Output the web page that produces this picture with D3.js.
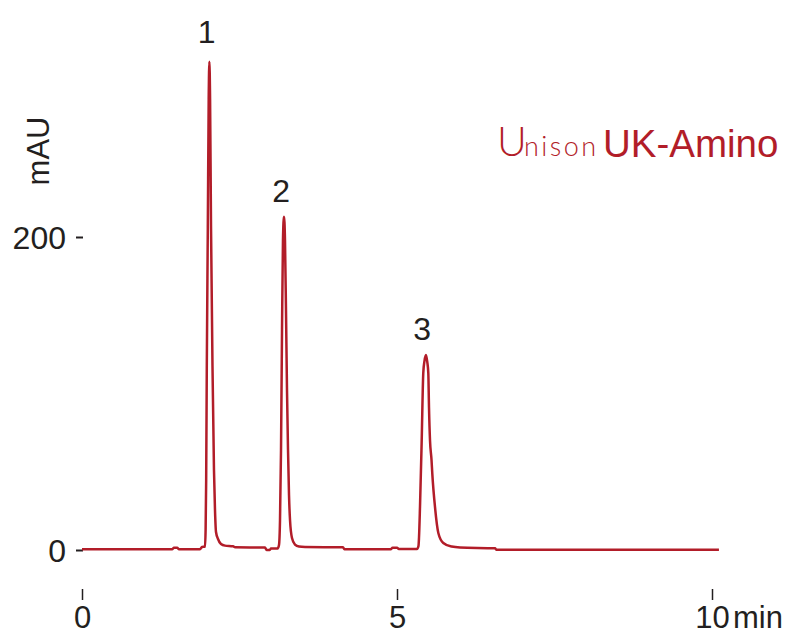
<!DOCTYPE html>
<html>
<head>
<meta charset="utf-8">
<script src="https://cdn.jsdelivr.net/npm/d3@7"></script>
<style>
  body { margin: 0; background: #fff; }
  text { font-family: "Liberation Sans", Arial, sans-serif; fill: #231f20; }
</style>
</head>
<body>
<div id="chart"></div>
<script>
// chromatogram (time in min, absorbance in mAU)
const timeMin = [0, 1.43, 1.46, 1.51, 1.54, 1.873, 1.905, 1.952, 1.962, 1.971, 1.981, 1.997, 2.011, 2.022,
  2.033, 2.048, 2.071, 2.095, 2.111, 2.127, 2.159, 2.206, 2.27, 2.397, 2.43, 2.905, 2.93, 2.98, 3.0, 3.105,
  3.127, 3.143, 3.159, 3.175, 3.19, 3.206, 3.222, 3.238, 3.254, 3.27, 3.286, 3.302, 3.333, 3.381, 3.444, 3.54,
  4.143, 4.165, 4.9, 4.93, 5.0, 5.03, 5.317, 5.341, 5.349, 5.365, 5.392, 5.417, 5.437, 5.46, 5.481, 5.497,
  5.508, 5.524, 5.548, 5.56, 5.603, 5.656, 5.735, 5.868, 6.0, 6.556, 6.575, 10.11];
const absorbance = [0.45, 0.45, 1.5, 1.5, 0.45, 0.45, 1.9, 2.1, 12.8, 44.7, 118, 206, 288, 312,
  288, 206, 118, 51, 25.6, 11.5, 7, 3.8, 2.8, 2.4, 1.7, 1.6, 0, 0, 1.0, 1.0,
  3.2, 19, 64, 141, 198, 213, 198, 153, 102, 64, 35, 19, 7.7, 3.5, 2.2, 1.9,
  1.7, 0.45, 0.45, 1.5, 1.5, 0.6, 0.6, 2.6, 7.7, 27.5, 70, 113, 121, 124.6, 120, 113,
  91, 70, 57.5, 49, 27.5, 10.9, 4.5, 2.2, 1.6, 1.1, 0.2, 0.2];

const xTicks = [0, 5, 10];
const yTicks = [0, 200];
const peakNames = ["1", "2", "3"];
const peakTimes = [1.98, 3.16, 5.4];
const peakTops = [312, 213, 124.6];

const width = 791, height = 635;
const red = "#b21d29";

const svg = d3.select("#chart").append("svg")
  .attr("width", width)
  .attr("height", height);

const x = d3.scaleLinear().domain([0, 10]).range([82, 712]);
const y = d3.scaleLinear().domain([0, 200]).range([550, 237]);

// y axis: just the little dashes and labels
const yAxis = svg.append("g")
  .attr("transform", "translate(83,0)")
  .call(d3.axisLeft(y).tickValues(yTicks).tickSize(7).tickPadding(10));
yAxis.select(".domain").remove();
yAxis.selectAll(".tick line").attr("stroke", "#231f20").attr("stroke-width", 2);
yAxis.selectAll(".tick text").style("font-size", "32px").attr("fill", "#231f20").attr("dy", "0.36em");

svg.append("text")
  .attr("transform", "translate(49,151) rotate(-90)")
  .style("text-anchor", "middle")
  .style("font-size", "31px")
  .text("mAU");

// x axis below, ticks pointing down
const xAxis = svg.append("g")
  .attr("transform", "translate(0,589)")
  .call(d3.axisBottom(x).tickValues(xTicks).tickSize(11).tickPadding(6));
xAxis.select(".domain").remove();
xAxis.selectAll(".tick line").attr("stroke", "#231f20").attr("stroke-width", 1.5);
xAxis.selectAll(".tick text").style("font-size", "31px").attr("fill", "#231f20");

svg.append("text")
  .attr("x", 733).attr("y", 628)
  .style("font-size", "31px")
  .text("min");

// the trace
const trace = timeMin.map((t, i) => [t, absorbance[i]]);
svg.append("path")
  .datum(trace)
  .attr("fill", "none")
  .attr("stroke", red)
  .attr("stroke-width", 2.5)
  .attr("stroke-linejoin", "round")
  .attr("d", d3.line()
    .x(d => x(d[0]))
    .y(d => y(d[1]))
    .curve(d3.curveMonotoneX));

// peak numbers
svg.selectAll(".peak")
  .data(peakNames)
  .enter().append("text")
  .attr("class", "peak")
  .attr("x", (d, i) => x(peakTimes[i]))
  .attr("y", (d, i) => y(peakTops[i]) - (i === 0 ? 19 : 15))
  .style("text-anchor", "middle")
  .style("font-size", "32px")
  .text(d => d);

// brand title
svg.append("text")
  .attr("x", 497).attr("y", 156)
  .style("font-family", "Lato, 'Open Sans', sans-serif")
  .style("font-weight", 300)
  .style("font-size", "41px")
  .style("fill", red)
  .text("U");
svg.append("text")
  .attr("x", 524).attr("y", 156)
  .attr("textLength", 72)
  .attr("lengthAdjust", "spacing")
  .style("font-family", "Lato, 'Open Sans', sans-serif")
  .style("font-weight", 300)
  .style("font-size", "27px")
  .style("fill", red)
  .text("nison");
svg.append("text")
  .attr("x", 603).attr("y", 157)
  .style("font-size", "38.5px")
  .style("fill", red)
  .text("UK-Amino");
</script>
</body>
</html>
